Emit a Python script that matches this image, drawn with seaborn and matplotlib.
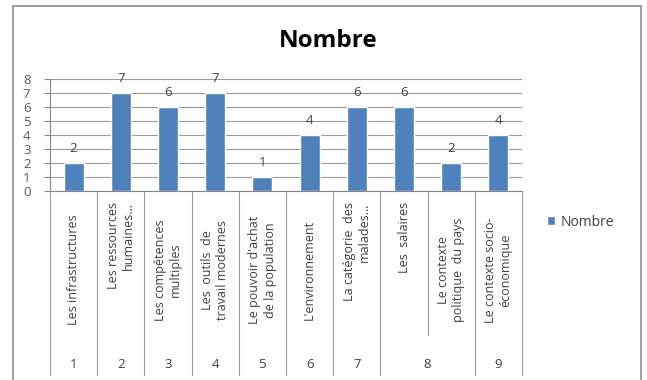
import matplotlib
matplotlib.use('Agg')
import matplotlib.pyplot as plt
import seaborn as sns
import pandas as pd
from matplotlib.patches import Rectangle

# ---- data ----
categories = [
    "Les infrastructures",
    "Les ressources\nhumaines...",
    "Les compétences\nmultiples",
    "Les  outils  de\ntravail modernes",
    "Le pouvoir d'achat\nde la population",
    "L'environnement",
    "La catégorie  des\nmalades...",
    "Les  salaires",
    "Le contexte\npolitique  du pays",
    "Le contexte socio-\néconomique",
]
values = [2, 7, 6, 7, 1, 4, 6, 6, 2, 4]
groups = ["1", "2", "3", "4", "5", "6", "7", "8", "8", "9"]
series_name = "Nombre"
title = "Nombre"
yticks = [0, 1, 2, 3, 4, 5, 6, 7, 8]

# label anchoring style (t = top anchored, c = centred)
anchors = ["c", "t", "c", "c", "c", "c", "t", "t", "c", "c"]

sns.set_theme(style="white")
plt.rcParams['font.family'] = ['Open Sans', 'DejaVu Sans']

W, H = 647, 380
fig = plt.figure(figsize=(W / 100, H / 100), dpi=100)
ax_left, ax_right, ax_top, ax_bot = 50, 522, 79, 191
ax = fig.add_axes([ax_left / W, 1 - ax_bot / H, (ax_right - ax_left) / W, (ax_bot - ax_top) / H])
axh = ax_bot - ax_top

def ypx(p):
    return (ax_bot - p) / axh

df = pd.DataFrame({"cat": categories, "val": values})
sns.barplot(data=df, x="cat", y="val", color="#4F81BD", width=0.42,
            saturation=1, ax=ax, label=series_name)
ax.bar_label(ax.containers[0], padding=6, fontsize=9.5, color="#404040")

n = len(values)
ax.set_xlim(-0.5, n - 0.5)
ax.set_ylim(0, 8)
ax.set_yticks(yticks)
ax.set_xticks([])
ax.set_xlabel("")
ax.set_ylabel("")
ax.grid(axis="y", color="#9a9a9a", lw=0.8)
ax.set_axisbelow(True)
for s in ["top", "right"]:
    ax.spines[s].set_visible(False)
for s in ["left", "bottom"]:
    ax.spines[s].set_color("#868686")
    ax.spines[s].set_linewidth(0.8)
ax.tick_params(axis="y", left=True, length=4, width=0.8, color="#868686",
               pad=10, labelsize=9.5, labelcolor="#595959", direction="out")

trans = ax.get_xaxis_transform()
y_lvl1 = ypx(335)
y_lvl2 = ypx(375)
for i in range(n + 1):
    x = i - 0.5
    is_group = i == 0 or i == n or groups[i] != groups[i - 1]
    yb = y_lvl2 if is_group else y_lvl1
    ax.plot([x, x], [0, yb], transform=trans, color="#9a9a9a", lw=0.8, clip_on=False)

# level-1 rotated labels
for i, (lab, a) in enumerate(zip(categories, anchors)):
    if a == "t":
        ax.text(i, ypx(202), lab, transform=trans, rotation=90, ha="center", va="top",
                multialignment="right", fontsize=9, color="#404040", linespacing=1.25)
    else:
        ax.text(i, ypx(270), lab, transform=trans, rotation=90, ha="center", va="center",
                multialignment="center", fontsize=9, color="#404040", linespacing=1.25)

# level-2 group labels
start = 0
for i in range(1, n + 1):
    if i == n or groups[i] != groups[start]:
        ax.text((start + i - 1) / 2, ypx(365), groups[start], transform=trans,
                ha="center", va="center", fontsize=9.5, color="#404040")
        start = i

leg = ax.legend(loc="center left", bbox_to_anchor=((547 - ax_left) / (ax_right - ax_left), ypx(222)),
                frameon=False, handlelength=0.6, handleheight=0.6, handletextpad=0.4,
                fontsize=10, borderaxespad=0, borderpad=0)
for t in leg.get_texts():
    t.set_color("#404040")

fig.text(328 / W, 1 - 41 / H, title, ha="center", va="center", fontsize=17.5,
         fontweight="bold", color="#000000")

fig.add_artist(Rectangle((13 / W, -0.05), (641 - 13) / W, 1.05 - 6 / H,
                         transform=fig.transFigure, fill=False, ec="#8c8c8c", lw=1.2))

fig.savefig("out.png", dpi=100)
